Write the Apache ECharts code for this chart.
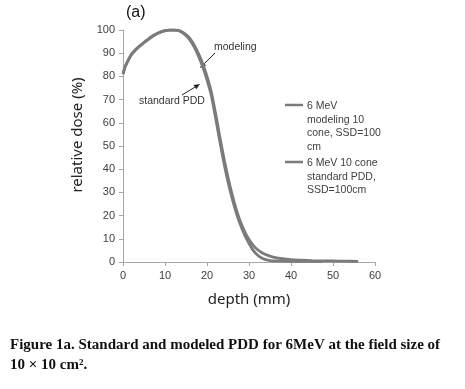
<!DOCTYPE html>
<html><head><meta charset="utf-8">
<script src="https://cdn.jsdelivr.net/npm/echarts@6/dist/echarts.min.js"></script>
<style>html,body{margin:0;padding:0;background:#fff}#c{width:465px;height:389px}</style>
</head><body><div id="c"></div>
<script>
var depthStd = [0,0.5,1,2,3,4,5,6,7,8,9,10,11,12,13,14,15,16,17,18,19,20,21,22,23,24,25,26,27,28,29,30,31,32,33,34,35,36,38,40,42,44,46,47.5];
var doseStd  = [81,84,86,89.3,91.4,93,94.5,95.9,97.2,98.3,99.1,99.6,99.9,100,99.8,99,97.6,95.5,92.5,88.6,84,78.5,72,62.5,52.5,43,34.5,27.3,21,15.8,11.5,8,5,3,1.7,1,0.6,0.45,0.35,0.3,0.3,0.3,0.3,0.3];
var depthMod = [0,0.5,1,2,3,4,5,6,7,8,9,10,11,12,13,14,15,16,17,18,19,20,21,22,23,24,25,26,27,28,29,30,31,32,33,34,35,36,38,40,42,45,50,53,56];
var doseMod  = [81,84.2,86.2,89.5,91.6,93.2,94.7,96.1,97.4,98.4,99.2,99.7,100,100,99.9,99.3,98,96.2,93.4,89.7,85.4,80,73.5,64.5,54.5,45,36.5,29,22.5,17.2,13,9.7,7.2,5.4,4.1,3.2,2.5,2,1.4,1,0.8,0.6,0.45,0.35,0.3];
var xTicks = [0,10,20,30,40,50,60];
var yTicks = [0,10,20,30,40,50,60,70,80,90,100];
var legendLabels = ["6 MeV\nmodeling 10\ncone, SSD=100\ncm", "6 MeV 10 cone\nstandard PDD,\nSSD=100cm"];

function pairs(xs, ys){ return xs.map(function(x,i){return [x, ys[i]];}); }
var chart = echarts.init(document.getElementById('c'), null, {renderer:'canvas'});
var txt = '#404040', axisCol = '#a6a6a6', lineCol = '#7b7b7b';
var lab = {fontFamily:'Liberation Sans, Arial, sans-serif', fontSize:11, color:txt};
function arrow(x1,y1,x2,y2){
  var ang = Math.atan2(y2-y1, x2-x1), L=6, W=2.6;
  var bx = x2 - L*Math.cos(ang), by = y2 - L*Math.sin(ang);
  var px = -Math.sin(ang)*W, py = Math.cos(ang)*W;
  return [
    {type:'line', shape:{x1:x1,y1:y1,x2:bx,y2:by}, style:{stroke:'#222', lineWidth:1}},
    {type:'polygon', shape:{points:[[x2,y2],[bx+px,by+py],[bx-px,by-py]]}, style:{fill:'#222'}}
  ];
}
var graphics = [
  {type:'text', left:126, top:5, style:{text:'(a)', font:'16px Liberation Sans, Arial, sans-serif', fill:'#111'}},
  {type:'text', x:78, y:135, rotation:Math.PI/2, style:{text:'relative dose (%)', font:'15px Noto Sans, sans-serif', fill:'#222', align:'center', verticalAlign:'middle'}},
  {type:'text', x:214, y:42, style:{text:'modeling', font:'10.5px Liberation Sans, Arial, sans-serif', fill:'#333'}},
  {type:'text', x:139, y:96, style:{text:'standard PDD', font:'10.5px Liberation Sans, Arial, sans-serif', fill:'#333'}},
  {type:'line', shape:{x1:285,y1:105,x2:303,y2:105}, style:{stroke:lineCol, lineWidth:2.5}},
  {type:'line', shape:{x1:285,y1:162,x2:303,y2:162}, style:{stroke:lineCol, lineWidth:2.5}},
  {type:'text', x:307, y:99, style:{text:legendLabels[0], font:'10.5px Liberation Sans, Arial, sans-serif', fill:txt, lineHeight:13.8}},
  {type:'text', x:307, y:156, style:{text:legendLabels[1], font:'10.5px Liberation Sans, Arial, sans-serif', fill:txt, lineHeight:13.8}},
  {type:'text', x:10, y:338, style:{text:'Figure 1a. Standard and modeled PDD for 6MeV at the field size of', font:'bold 15px Liberation Serif, Times New Roman, serif', fill:'#111'}},
  {type:'text', x:10, y:358, style:{text:'10 \u00d7 10 cm\u00b2.', font:'bold 15px Liberation Serif, Times New Roman, serif', fill:'#111'}}
].concat(arrow(215,53,200,68)).concat(arrow(182,95,200,84));

chart.setOption({
  animation:false,
  backgroundColor:'#fff',
  grid:{left:123, right:90, top:30, bottom:127},
  xAxis:{type:'value', min:0, max:60, interval:10,
    name:'depth (mm)', nameLocation:'middle', nameGap:30,
    nameTextStyle:{fontFamily:'Noto Sans, sans-serif', fontSize:15, color:'#222'},
    axisLine:{show:true, lineStyle:{color:axisCol}}, axisTick:{show:true, length:4, lineStyle:{color:axisCol}},
    splitLine:{show:false}, axisLabel:Object.assign({margin:8}, lab,
      {formatter:function(v){return xTicks.indexOf(v)>=0?String(v):'';}})},
  yAxis:{type:'value', min:0, max:100, interval:10,
    axisLine:{show:true, lineStyle:{color:axisCol}}, axisTick:{show:true, length:4, lineStyle:{color:axisCol}},
    splitLine:{show:false}, axisLabel:Object.assign({margin:8}, lab,
      {formatter:function(v){return yTicks.indexOf(v)>=0?String(v):'';}})},
  series:[
    {name:'modeling', type:'line', data:pairs(depthMod, doseMod), smooth:0.3, showSymbol:false, lineStyle:{color:lineCol, width:2.8}},
    {name:'standard', type:'line', data:pairs(depthStd, doseStd), smooth:0.3, showSymbol:false, lineStyle:{color:lineCol, width:2.8}}
  ],
  graphic:graphics
});
</script></body></html>
